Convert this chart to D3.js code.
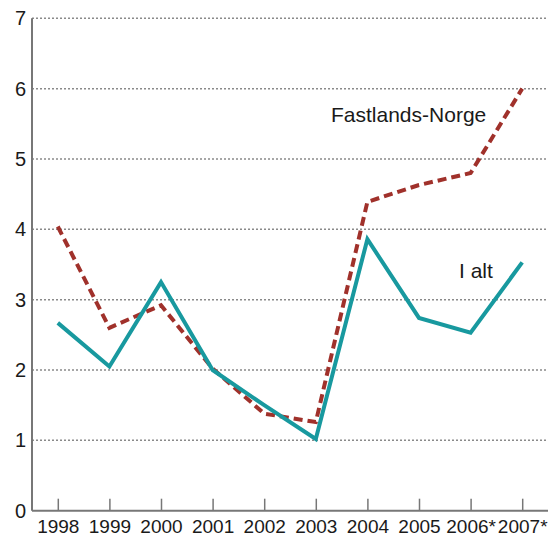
<!DOCTYPE html>
<html>
<head>
<meta charset="utf-8">
<script src="https://cdn.jsdelivr.net/npm/d3@7"></script>
<style>
  body { margin: 0; background: #fff; }
  svg text { font-family: "Liberation Sans", Arial, sans-serif; fill: #1a1a1a; }
</style>
</head>
<body>
<div id="chart"></div>
<script>
const years = ['1998', '1999', '2000', '2001', '2002', '2003', '2004', '2005', '2006*', '2007*'];
const iAlt = [2.67, 2.05, 3.25, 2.0, 1.5, 1.02, 3.86, 2.74, 2.53, 3.53];
const fastlandsNorge = [4.04, 2.6, 2.92, 2.02, 1.38, 1.26, 4.39, 4.63, 4.8, 6.0];
const yTicks = [0, 1, 2, 3, 4, 5, 6, 7];

const width = 554;
const height = 537;
const margin = { left: 32, right: 548, top: 18.3, bottom: 510.7 };

const svg = d3.select('#chart')
  .append('svg')
  .attr('width', width)
  .attr('height', height);

const x = d3.scalePoint().domain(years).range([margin.left, margin.right]).padding(0.5);
const y = d3.scaleLinear().domain([0, 7]).range([margin.bottom, margin.top]);

// gridlines
svg.append('g')
  .selectAll('line')
  .data(yTicks.filter(d => d > 0))
  .enter()
  .append('line')
  .attr('x1', margin.left)
  .attr('x2', margin.right)
  .attr('y1', d => y(d))
  .attr('y2', d => y(d))
  .attr('stroke', '#8a8a8a')
  .attr('stroke-width', 1.5)
  .attr('stroke-dasharray', '2,2');

// y axis labels
svg.append('g')
  .selectAll('text')
  .data(yTicks)
  .enter()
  .append('text')
  .attr('x', 26)
  .attr('y', d => y(d))
  .attr('dy', '0.35em')
  .attr('text-anchor', 'end')
  .style('font-size', '20px')
  .text(d => d);

// left axis line
svg.append('line')
  .attr('x1', margin.left)
  .attr('x2', margin.left)
  .attr('y1', margin.top)
  .attr('y2', margin.bottom)
  .attr('stroke', '#777')
  .attr('stroke-width', 2);

// bottom axis
const xAxis = svg.append('g')
  .attr('transform', `translate(0,${margin.bottom})`)
  .call(d3.axisBottom(x).tickSize(-12).tickSizeOuter(0).tickPadding(9));
xAxis.select('.domain')
  .attr('d', `M${margin.left},0H${margin.right}`)
  .attr('stroke', '#777')
  .attr('stroke-width', 2);
xAxis.selectAll('.tick line').attr('stroke', '#777').attr('stroke-width', 1.5);
xAxis.selectAll('text')
  .style('font-size', '19px')
  .style('font-family', '"Liberation Sans", Arial, sans-serif')
  .attr('fill', '#1a1a1a');

const line = d3.line()
  .x((d, i) => x(years[i]))
  .y(d => y(d));

svg.append('path')
  .datum(fastlandsNorge)
  .attr('d', line)
  .attr('fill', 'none')
  .attr('stroke', '#a0312b')
  .attr('stroke-width', 4)
  .attr('stroke-dasharray', '9,5');

svg.append('path')
  .datum(iAlt)
  .attr('d', line)
  .attr('fill', 'none')
  .attr('stroke', '#18999f')
  .attr('stroke-width', 4)
  .attr('stroke-linejoin', 'miter');

svg.append('text')
  .attr('x', 331)
  .attr('y', 122)
  .style('font-size', '21px')
  .text('Fastlands-Norge');

svg.append('text')
  .attr('x', 459)
  .attr('y', 278)
  .style('font-size', '21px')
  .text('I alt');
</script>
</body>
</html>
